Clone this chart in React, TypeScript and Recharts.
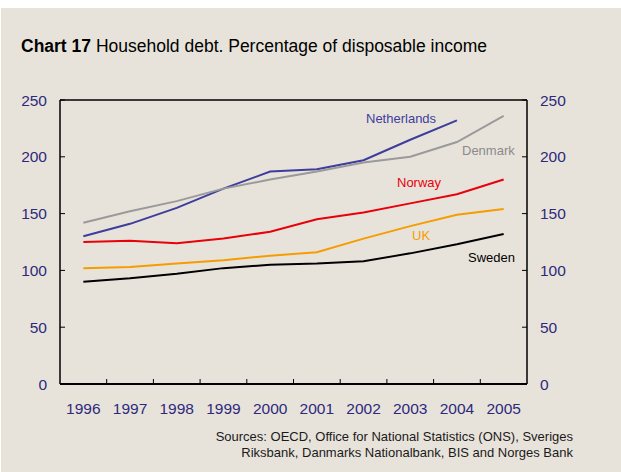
import { LineChart, Line, XAxis, YAxis, ReferenceLine } from "recharts";

const years = [1996, 1997, 1998, 1999, 2000, 2001, 2002, 2003, 2004, 2005];
const netherlands = [130, 141, 155, 172, 187, 189, 197, 215, 232, null];
const denmark = [142, 152, 161, 172, 180, 187, 195, 200, 213, 236];
const norway = [125, 126, 124, 128, 134, 145, 151, 159, 167, 180];
const uk = [102, 103, 106, 109, 113, 116, 128, 139, 149, 154];
const sweden = [90, 93, 97, 102, 105, 106, 108, 115, 123, 132];
const yTicks = [0, 50, 100, 150, 200, 250];

const series = [
  { key: "Netherlands", values: netherlands, color: "#3d3d9e", axis: "l" },
  { key: "Denmark", values: denmark, color: "#9a9a9a", axis: "l" },
  { key: "Norway", values: norway, color: "#e8000b", axis: "l" },
  { key: "UK", values: uk, color: "#f59c00", axis: "l" },
  // Sweden goes on the right axis (same scale) so that axis gets drawn
  { key: "Sweden", values: sweden, color: "#000000", axis: "r" },
];

const data = years.map((year, i) => {
  const row: Record<string, number | null> = { year };
  for (const s of series) row[s.key] = s.values[i];
  return row;
});

// year boundaries for the small tick marks on the bottom axis
const boundaries = years.slice(0, -1).map((y) => y + 0.5);

const FONT = "'Liberation Sans', Arial, sans-serif";
const NAVY = "#2d2a7c";

const labels = [
  { text: "Netherlands", color: "#3d3d9e", left: 366, top: 111 },
  { text: "Denmark", color: "#8a8a8a", left: 462, top: 143 },
  { text: "Norway", color: "#e8000b", left: 397, top: 175 },
  { text: "UK", color: "#f59c00", left: 412, top: 228 },
  { text: "Sweden", color: "#000000", left: 468, top: 250 },
];

export default function App() {
  const tickStyle = { fill: NAVY, fontSize: 15.5, fontFamily: FONT };
  return (
    <div style={{ position: "relative", width: 621, height: 472, background: "#fff", fontFamily: FONT }}>
      <style>{`body{margin:0}`}</style>
      <div style={{ position: "absolute", left: 1, top: 8, right: 0, bottom: 0, background: "#e8e3da" }} />
      <div style={{ position: "absolute", left: 21, top: 36, fontSize: 17.5, lineHeight: "20px", color: "#000", whiteSpace: "nowrap" }}>
        <b>Chart 17</b> Household debt. Percentage of disposable income
      </div>
      <div style={{ position: "absolute", left: 0, top: 0 }}>
        <LineChart width={621} height={472} data={data} margin={{ top: 100, right: 54, left: 20, bottom: 58 }}>
          <XAxis
            dataKey="year"
            type="number"
            domain={[1995.5, 2005.5]}
            ticks={years}
            interval={0}
            height={30}
            tickLine={false}
            tickSize={0}
            tickMargin={19}
            axisLine={{ stroke: "#000", strokeWidth: 2 }}
            tick={tickStyle}
            allowDataOverflow
          />
          <YAxis
            yAxisId="l"
            domain={[0, 250]}
            ticks={yTicks}
            width={40}
            tickSize={-5}
            tickMargin={18}
            axisLine={{ stroke: "#000", strokeWidth: 1.5 }}
            tickLine={{ stroke: "#000" }}
            tick={tickStyle}
          />
          <YAxis
            yAxisId="r"
            orientation="right"
            domain={[0, 250]}
            ticks={yTicks}
            width={40}
            tickSize={-5}
            tickMargin={18}
            axisLine={{ stroke: "#000", strokeWidth: 1.5 }}
            tickLine={{ stroke: "#000" }}
            tick={tickStyle}
          />
          <ReferenceLine yAxisId="l" y={250} stroke="#000" strokeWidth={1.5} />
          {boundaries.map((b) => (
            <ReferenceLine
              key={b}
              yAxisId="l"
              segment={[{ x: b, y: 0 }, { x: b, y: 4.4 }]}
              stroke="#000"
              strokeWidth={1}
            />
          ))}
          {series.map((s) => (
            <Line
              key={s.key}
              yAxisId={s.axis}
              type="linear"
              dataKey={s.key}
              stroke={s.color}
              strokeWidth={2}
              dot={false}
              isAnimationActive={false}
            />
          ))}
        </LineChart>
      </div>
      {labels.map((l) => (
        <div key={l.text} style={{ position: "absolute", left: l.left, top: l.top, fontSize: 13, color: l.color, lineHeight: "16px" }}>
          {l.text}
        </div>
      ))}
      <div style={{ position: "absolute", right: 48, top: 429, fontSize: 13, lineHeight: "16px", color: "#1a1a1a", textAlign: "right", whiteSpace: "nowrap" }}>
        Sources: OECD, Office for National Statistics (ONS), Sveriges
        <br />
        Riksbank, Danmarks Nationalbank, BIS and Norges Bank
      </div>
    </div>
  );
}
